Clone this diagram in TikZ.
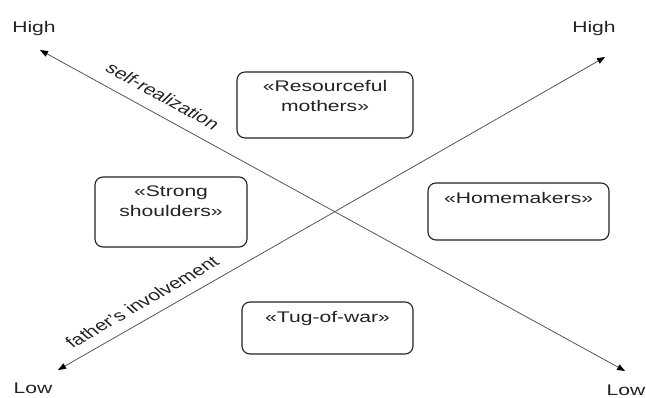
\documentclass[tikz,border=0pt]{standalone}
\usepackage{fontspec}
\setmainfont{Liberation Sans}
\usetikzlibrary{arrows.meta}
\definecolor{ink}{HTML}{222222}
\definecolor{axisgray}{HTML}{555555}
\begin{document}
\begin{tikzpicture}[x=1pt,y=-1pt]
\useasboundingbox (0,0) rectangle (646,397);
\begin{scope}[x=0.729927pt, xscale=1.37, transform shape,
  txt/.style={font=\fontsize{15.4}{20}\selectfont, text=ink, inner sep=0pt, align=center},
  box/.style={draw=ink, line width=1.1pt, rounded corners=8pt, inner sep=0pt},
  axisline/.style={draw=axisgray, line width=0.8pt,
    {Triangle[length=8pt,width=6pt,color=black]}-{Triangle[length=8pt,width=6pt,color=black]}}]
  % axes
  \coordinate (srHigh) at (40,50);
  \coordinate (srLow) at (625,371);
  \coordinate (fiLow) at (58,370);
  \coordinate (fiHigh) at (605,57);
  \draw[axisline] (srHigh) -- (srLow);
  \draw[axisline] (fiLow) -- (fiHigh);
  % axis labels
  \node[txt, rotate=-36.9] (srlab) at (163,96) {self-realization};
  \node[txt, rotate=38.1] (filab) at (142,302) {father's involvement};
  % ends
  \node[txt, anchor=base] (hTL) at (34,32) {High};
  \node[txt, anchor=base] (hTR) at (594,32) {High};
  \node[txt, anchor=base] (lBL) at (33,393) {Low};
  \node[txt, anchor=base] (lBR) at (626,395) {Low};
  % boxes
  \node[box, minimum width={176/1.37}, minimum height=66] (rm) at (325,105) {};
  \node[txt, anchor=base] (rmt) at ([yshift=-40.5pt]rm.north) {«Resourceful\\mothers»};
  \node[box, minimum width={152/1.37}, minimum height=70] (ss) at (171,212) {};
  \node[txt, anchor=base] (sst) at ([yshift=-40.5pt]ss.north) {«Strong\\shoulders»};
  \node[box, minimum width={181/1.37}, minimum height=57] (hm) at (518.5,211.5) {};
  \node[txt, anchor=base] (hmt) at ([yshift=-21pt]hm.north) {«Homemakers»};
  \node[box, minimum width={171/1.37}, minimum height=52] (tw) at (327.5,328) {};
  \node[txt, anchor=base] (twt) at ([yshift=-21pt]tw.north) {«Tug-of-war»};
\end{scope}
\end{tikzpicture}
\end{document}
